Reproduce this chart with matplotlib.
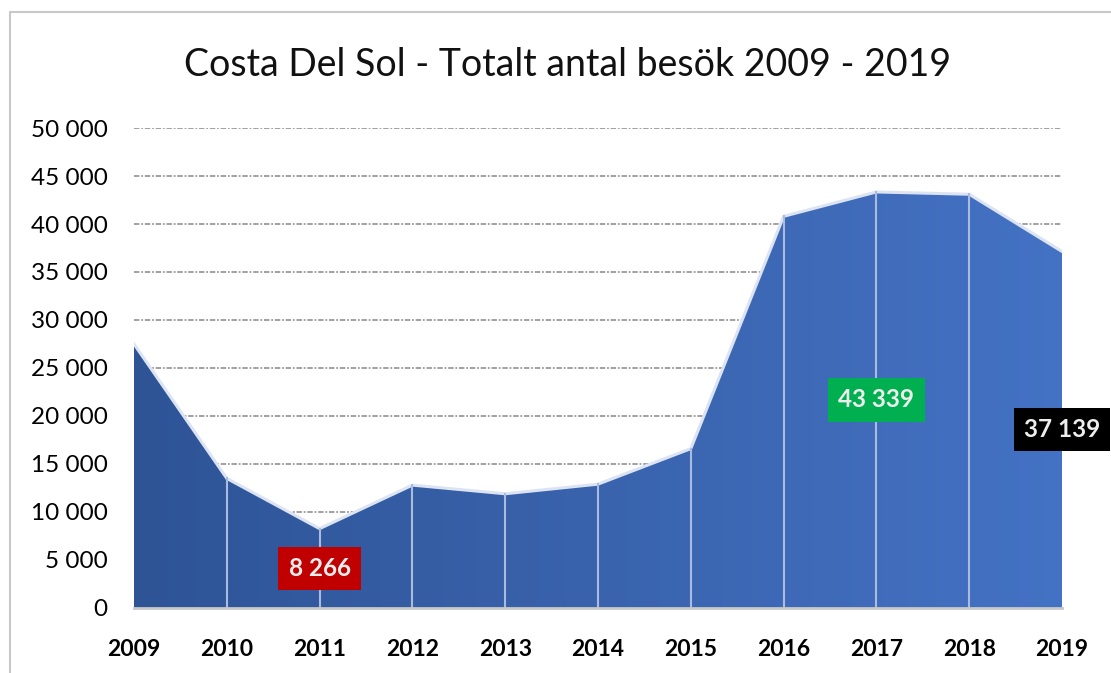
import matplotlib.pyplot as plt
import numpy as np
from matplotlib.colors import LinearSegmentedColormap
from matplotlib.patches import Rectangle

plt.rcParams["font.family"] = ["Lato", "DejaVu Sans"]

years = [2009, 2010, 2011, 2012, 2013, 2014, 2015, 2016, 2017, 2018, 2019]
visits = [27500, 13500, 8266, 12800, 11900, 12900, 16600, 40800, 43339, 43100, 37139]

# highlighted data labels: (year, box colour)
highlights = [(2011, "#C00000"), (2017, "#00B050"), (2019, "#000000")]

fig = plt.figure(figsize=(11.11, 6.73), dpi=100)
ax = fig.add_axes([0.1206, 0.0966, 0.8353, 0.7132])

# outer chart border
fig.patches.append(Rectangle((0.009, -0.05), 1.2, 1.032, transform=fig.transFigure,
                             fill=False, edgecolor="#C8C8C8", linewidth=1.5))

x = np.array(years, dtype=float)
y = np.array(visits, dtype=float)

ax.set_xlim(x[0], x[-1])
ax.set_ylim(0, 50000)

# gradient fill clipped to the area polygon
cmap = LinearSegmentedColormap.from_list("blues", ["#2E5496", "#4472C4"])
grad = np.linspace(0, 1, 256).reshape(1, -1)
poly = ax.fill_between(x, 0, y, color="none", linewidth=0)
img = ax.imshow(grad, cmap=cmap, aspect="auto", extent=[x[0], x[-1], 0, 50000],
                origin="lower", zorder=2)
path = poly.get_paths()[0]
img.set_clip_path(path, transform=ax.transData)

# top edge
ax.plot(x, y, color="#DCE4F4", linewidth=2.2, zorder=3, solid_joinstyle="round")

# vertical year lines inside the area
for xi, yi in zip(x[1:-1], y[1:-1]):
    ax.plot([xi, xi], [0, yi], color="#A9BCE0", linewidth=1.5, zorder=3)

# grid
ax.set_yticks(np.arange(0, 50001, 5000))
ax.yaxis.grid(True, color="#9A9A9A", linestyle=(0, (3, 1, 1, 1)), linewidth=1.3, zorder=1)
ax.set_axisbelow(True)
ax.set_xticks(years)
ax.set_xticklabels([str(v) for v in years], fontsize=16.5, fontweight="bold")
ax.set_yticklabels([f"{int(v):,}".replace(",", " ") for v in ax.get_yticks()], fontsize=17.5)
ax.tick_params(axis="both", length=0)
ax.tick_params(axis="y", pad=19)
ax.tick_params(axis="x", pad=22)

for s in ["top", "right", "left"]:
    ax.spines[s].set_visible(False)
ax.spines["bottom"].set_color("#C8C8C8")
ax.spines["bottom"].set_linewidth(2)
ax.spines["bottom"].set_zorder(4)

# data labels centered at half height
for yr, col in highlights:
    v = visits[years.index(yr)]
    ax.text(yr, v / 2, f"{v:,}".replace(",", " "), ha="center", va="center",
            fontsize=17.5, fontweight="bold", color="#EDEDED", zorder=5, clip_on=False,
            bbox=dict(boxstyle="square,pad=0.42", facecolor=col, edgecolor="none"))

fig.text(0.511, 0.903, "Costa Del Sol - Totalt antal besök 2009 - 2019",
         ha="center", va="center", fontsize=27, color="#111111")

fig.savefig("out.png", dpi=100)
